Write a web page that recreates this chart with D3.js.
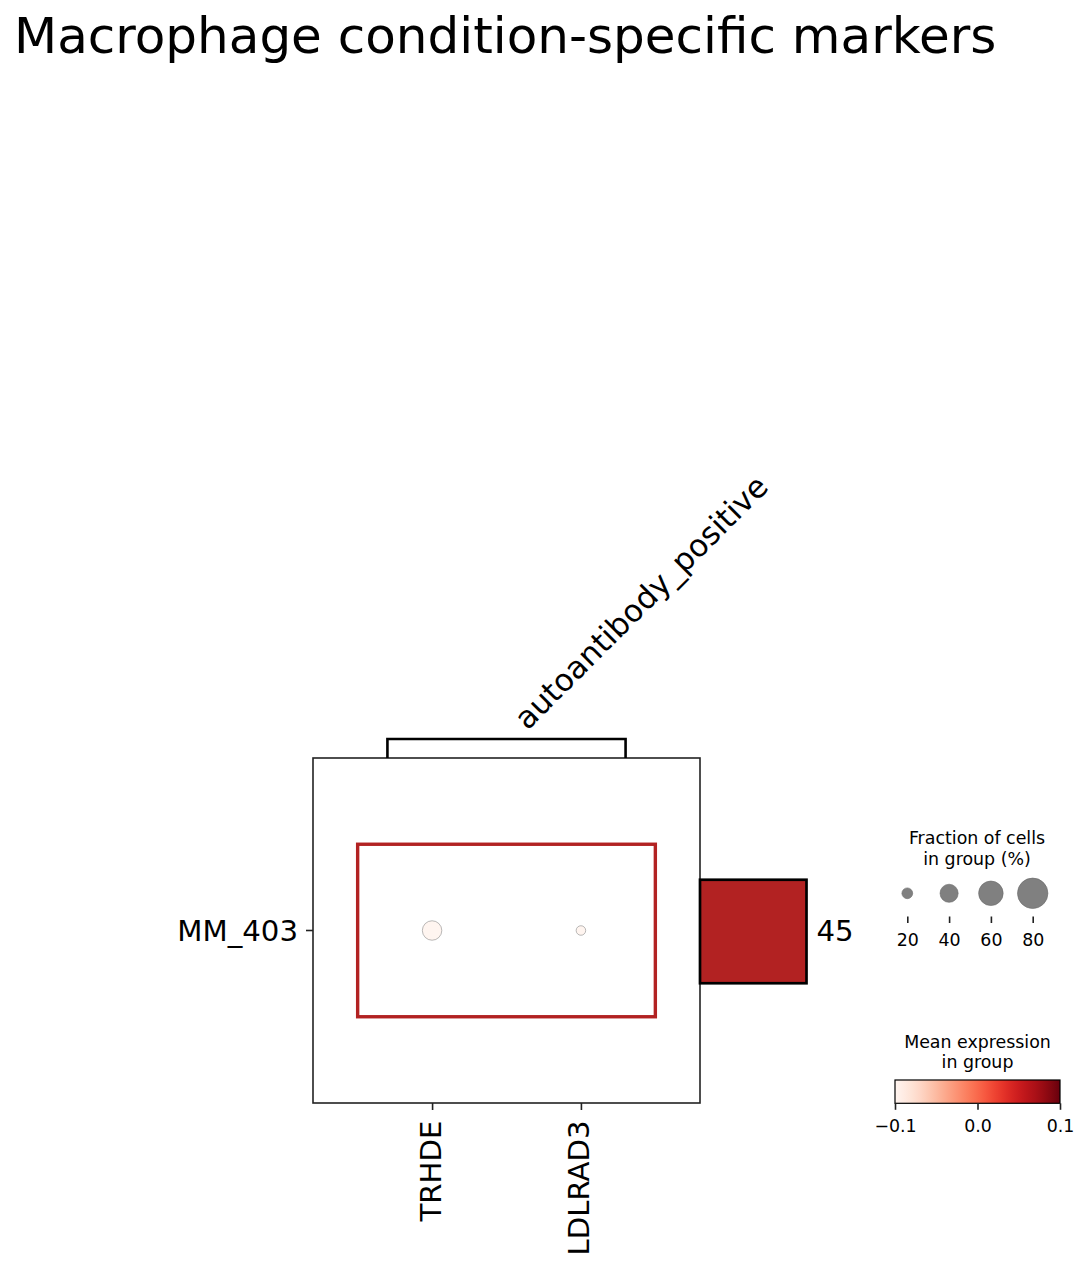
<!DOCTYPE html>
<html>
<head>
<meta charset="utf-8">
<script src="https://cdn.jsdelivr.net/npm/d3@7"></script>
<style>
  html, body { margin: 0; padding: 0; background: #fff; }
  svg { display: block; font-family: "DejaVu Sans", sans-serif; }
</style>
</head>
<body>
<svg id="chart" width="1088" height="1269"></svg>
<script>
// ---------------- data ----------------
const titleText = "Macrophage condition-specific markers";
const genes = ["TRHDE", "LDLRAD3"];
const groups = ["MM_403"];
const fractionInGroup = [0.44, 0.17];          // fraction of cells expressing (per gene)
const meanExpression = [-0.1, -0.1];           // mean expression (per gene)
const groupTotals = [45];                      // cells per group
const geneGroupLabels = ["autoantibody_positive"];
const geneGroupStart = [0];
const geneGroupEnd = [1];
const sizeLegendTicks = [20, 40, 60, 80];
const colorLegendTicks = [-0.1, 0.0, 0.1];
const colorDomain = [-0.1, 0.1];

// ---------------- setup ----------------
const svg = d3.select("#chart");
const axisColor = "#222";

svg.append("text")
  .attr("x", 14).attr("y", 53)
  .attr("font-size", 50)
  .attr("fill", "#000")
  .text(titleText);

// main dot plot area
const plot = { left: 313, right: 700, top: 758, bottom: 1103 };
const x = d3.scaleLinear().domain([-0.3, genes.length + 0.3]).range([plot.left, plot.right]);
const y = d3.scaleBand().domain(groups).range([plot.top, plot.bottom]);
const color = d3.scaleSequential(d3.interpolateReds).domain(colorDomain);
const radius = d3.scalePow().exponent(0.75).domain([0, 1]).range([0, 18]);

// frame
svg.append("rect")
  .attr("x", plot.left).attr("y", plot.top)
  .attr("width", plot.right - plot.left).attr("height", plot.bottom - plot.top)
  .attr("fill", "none").attr("stroke", axisColor).attr("stroke-width", 1.6);

// red highlight rectangle around gene group
const rowC = y(groups[0]) + y.bandwidth() / 2;
svg.append("rect")
  .attr("x", x(geneGroupStart[0])).attr("y", rowC - y.bandwidth() * 0.25)
  .attr("width", x(geneGroupEnd[0] + 1) - x(geneGroupStart[0]))
  .attr("height", y.bandwidth() * 0.5)
  .attr("fill", "none").attr("stroke", "#b22222").attr("stroke-width", 3.4);

// dots
const dots = genes.map((g, i) => ({ gene: g, i, frac: fractionInGroup[i], expr: meanExpression[i] }));
svg.append("g").selectAll("circle").data(dots).join("circle")
  .attr("cx", d => x(d.i + 0.5))
  .attr("cy", rowC)
  .attr("r", d => radius(d.frac))
  .attr("fill", d => color(d.expr))
  .attr("stroke", "#8a8a8a").attr("stroke-width", 0.6);

// left axis
const yAxis = svg.append("g")
  .attr("transform", `translate(${plot.left},0)`)
  .call(d3.axisLeft(y).tickSize(7).tickPadding(8));
yAxis.select(".domain").remove();
yAxis.selectAll(".tick line").attr("stroke", axisColor).attr("stroke-width", 1.6);
yAxis.selectAll(".tick text").attr("font-size", 29.2).attr("fill", "#000")
  .attr("font-family", "DejaVu Sans").attr("dy", "0.36em");

// bottom axis
const xAxis = svg.append("g")
  .attr("transform", `translate(0,${plot.bottom})`)
  .call(d3.axisBottom(x).tickValues(genes.map((g, i) => i + 0.5)).tickFormat((d, i) => genes[i]).tickSize(7));
xAxis.select(".domain").remove();
xAxis.selectAll(".tick line").attr("stroke", axisColor).attr("stroke-width", 1.6);
xAxis.selectAll(".tick text")
  .attr("font-size", 29.2).attr("fill", "#000").attr("font-family", "DejaVu Sans")
  .attr("text-anchor", "end")
  .attr("dy", null)
  .attr("y", 0)
  .attr("transform", "translate(8,17.5) rotate(-90)");

// gene group bracket
const bracketTop = 739;
geneGroupLabels.forEach((lab, k) => {
  const x0 = x(geneGroupStart[k] + 0.2), x1 = x(geneGroupEnd[k] + 1 - 0.2);
  svg.append("path")
    .attr("d", `M${x0},${plot.top} V${bracketTop} H${x1} V${plot.top}`)
    .attr("fill", "none").attr("stroke", "#000").attr("stroke-width", 2.6);
  const cx = (x0 + x1) / 2;
  svg.append("text")
    .attr("transform", `translate(${cx + 21},${bracketTop - 8}) rotate(-45)`)
    .attr("font-size", 31).attr("fill", "#000")
    .text(lab);
});

// totals bar
const barX = d3.scaleLinear().domain([0, d3.max(groupTotals)]).range([plot.right, 806.5]);
groups.forEach((g, k) => {
  const bh = y.bandwidth() * 0.3;
  svg.append("rect")
    .attr("x", barX(0)).attr("y", rowC - bh / 2 + 1)
    .attr("width", barX(groupTotals[k]) - barX(0)).attr("height", bh)
    .attr("fill", "#b22222").attr("stroke", "#000").attr("stroke-width", 2.7);
  svg.append("text")
    .attr("x", barX(groupTotals[k]) + 10).attr("y", rowC + 10)
    .attr("font-size", 29.2).attr("fill", "#000")
    .text(groupTotals[k]);
});

// ---------------- size legend ----------------
const lgFont = 17.4;
const sx = d3.scalePoint().domain(sizeLegendTicks).range([907.3, 1032.7]);
svg.append("text").attr("x", 977).attr("y", 843.5).attr("text-anchor", "middle")
  .attr("font-size", lgFont).text("Fraction of cells");
svg.append("text").attr("x", 977).attr("y", 864.5).attr("text-anchor", "middle")
  .attr("font-size", lgFont).text("in group (%)");
const sg = svg.append("g");
sg.selectAll("circle").data(sizeLegendTicks).join("circle")
  .attr("cx", d => sx(d)).attr("cy", 893.3)
  .attr("r", d => radius(d / 100))
  .attr("fill", "#808080").attr("stroke", "#6a6a6a").attr("stroke-width", 0.6);
const sAxis = svg.append("g").attr("transform", "translate(0,916.5)")
  .call(d3.axisBottom(sx).tickSize(6.5).tickPadding(11));
sAxis.select(".domain").remove();
sAxis.selectAll(".tick line").attr("stroke", axisColor).attr("stroke-width", 1.6);
sAxis.selectAll(".tick text").attr("font-size", lgFont).attr("fill", "#000")
  .attr("font-family", "DejaVu Sans").attr("dy", "0.71em");

// ---------------- color legend ----------------
const cb = { left: 895, right: 1060, top: 1080, bottom: 1103.3 };
const cx = d3.scaleLinear().domain(colorDomain).range([cb.left, cb.right]);
const defs = svg.append("defs");
const grad = defs.append("linearGradient").attr("id", "redsGrad")
  .attr("x1", "0%").attr("x2", "100%").attr("y1", "0%").attr("y2", "0%");
d3.range(0, 1.0001, 0.05).forEach(t => {
  grad.append("stop").attr("offset", (t * 100) + "%").attr("stop-color", d3.interpolateReds(t));
});
svg.append("text").attr("x", 977.5).attr("y", 1047.5).attr("text-anchor", "middle")
  .attr("font-size", lgFont).text("Mean expression");
svg.append("text").attr("x", 977.5).attr("y", 1067.5).attr("text-anchor", "middle")
  .attr("font-size", lgFont).text("in group");
svg.append("rect")
  .attr("x", cb.left).attr("y", cb.top)
  .attr("width", cb.right - cb.left).attr("height", cb.bottom - cb.top)
  .attr("fill", "url(#redsGrad)").attr("stroke", "#000").attr("stroke-width", 1.2);
const cAxis = svg.append("g").attr("transform", `translate(0,${cb.bottom})`)
  .call(d3.axisBottom(cx).tickValues(colorLegendTicks).tickFormat(d3.format(".1f")).tickSize(6.5).tickPadding(9.5));
cAxis.select(".domain").remove();
cAxis.selectAll(".tick line").attr("stroke", axisColor).attr("stroke-width", 1.6);
cAxis.selectAll(".tick text").attr("font-size", lgFont).attr("fill", "#000")
  .attr("font-family", "DejaVu Sans").attr("dy", "0.71em");
</script>
</body>
</html>
